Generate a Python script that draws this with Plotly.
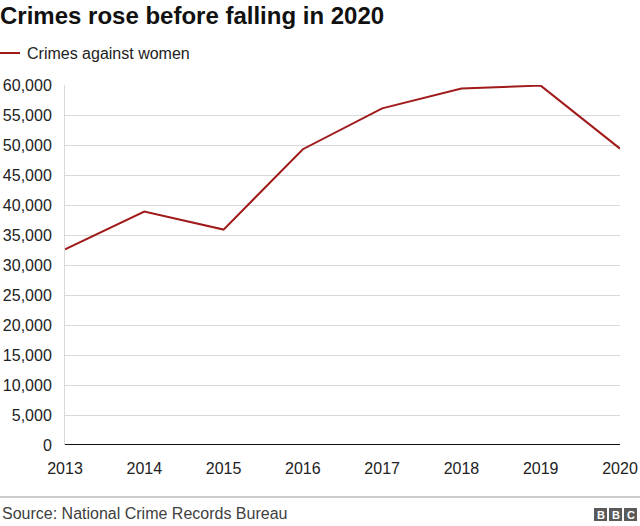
import plotly.graph_objects as go

# crimes against women
years = [2013, 2014, 2015, 2016, 2017, 2018, 2019, 2020]
crimes = [32600, 38900, 35900, 49300, 56100, 59400, 59900, 49400]
y_ticks = list(range(0, 60001, 5000))
y_labels = [f"{v:,}" for v in y_ticks]

W, H = 640, 526
L, R, T, B = 65, 20, 85, 81
PW, PH = W - L - R, H - T - B
font = "Liberation Sans, Arial, Helvetica, sans-serif"


def px_x(x):
    # page pixel -> paper x
    return (x - L) / PW


def px_y(y):
    # page pixel -> paper y
    return (H - B - y) / PH


fig = go.Figure()
fig.add_trace(go.Scatter(
    x=years, y=crimes, mode="lines", name="Crimes against women",
    line=dict(color="#a01a1a", width=2), showlegend=False,
))

fig.update_layout(
    width=W, height=H,
    margin=dict(l=L, r=R, t=T, b=B, autoexpand=False),
    paper_bgcolor="white", plot_bgcolor="white",
    font=dict(family=font, size=16, color="#222222"),
    title=dict(text="<b>Crimes rose before falling in 2020</b>",
               x=0, xref="container", xanchor="left",
               y=0.987, yref="container", yanchor="top",
               pad=dict(t=0, l=0, r=0, b=0),
               font=dict(size=24, color="#111111")),
)

fig.update_xaxes(
    range=[2013, 2020], tickvals=years, ticktext=[str(y) for y in years],
    showgrid=False, zeroline=False, showline=False, ticks="",
    ticklabelstandoff=12, automargin=False, fixedrange=True,
)
fig.update_yaxes(
    range=[0, 60000], tickvals=y_ticks, ticktext=y_labels,
    showgrid=True, gridcolor="#d9d9d9", gridwidth=1,
    zeroline=False, showline=True, linecolor="#d9d9d9", linewidth=1,
    ticks="", ticklabelstandoff=9, automargin=False, fixedrange=True,
)

shapes = [
    # baseline at zero
    dict(type="line", xref="paper", yref="y", x0=0, x1=1, y0=0, y1=0,
         line=dict(color="#111111", width=2)),
    # legend swatch
    dict(type="line", xref="paper", yref="paper",
         x0=px_x(0), x1=px_x(20), y0=px_y(53), y1=px_y(53),
         line=dict(color="#a01a1a", width=2)),
    # footer rule
    dict(type="line", xref="paper", yref="paper",
         x0=px_x(0), x1=px_x(W), y0=px_y(497), y1=px_y(497),
         line=dict(color="#999999", width=1)),
]

annotations = [
    dict(text="Crimes against women", xref="paper", yref="paper",
         x=px_x(25), y=px_y(53), xanchor="left", yanchor="middle",
         showarrow=False, font=dict(size=16, color="#222222")),
    dict(text="Source: National Crime Records Bureau", xref="paper", yref="paper",
         x=px_x(0), y=px_y(513), xanchor="left", yanchor="middle",
         showarrow=False, font=dict(size=16, color="#404040")),
]

# BBC blocks
for i, letter in enumerate("BBC"):
    x0 = 594 + i * 15
    shapes.append(dict(type="rect", xref="paper", yref="paper",
                       x0=px_x(x0), x1=px_x(x0 + 13),
                       y0=px_y(521), y1=px_y(508),
                       fillcolor="#5a5a5a", line=dict(width=0)))
    annotations.append(dict(text=f"<b>{letter}</b>", xref="paper", yref="paper",
                            x=px_x(x0 + 6.5), y=px_y(514.5),
                            xanchor="center", yanchor="middle", showarrow=False,
                            font=dict(size=11, color="white")))

fig.update_layout(shapes=shapes, annotations=annotations)

# the page's default 8px body margin would push the chart off the window
fig.write_html("out.html", config={"displayModeBar": False},
               post_script="document.body.style.margin='0';")
